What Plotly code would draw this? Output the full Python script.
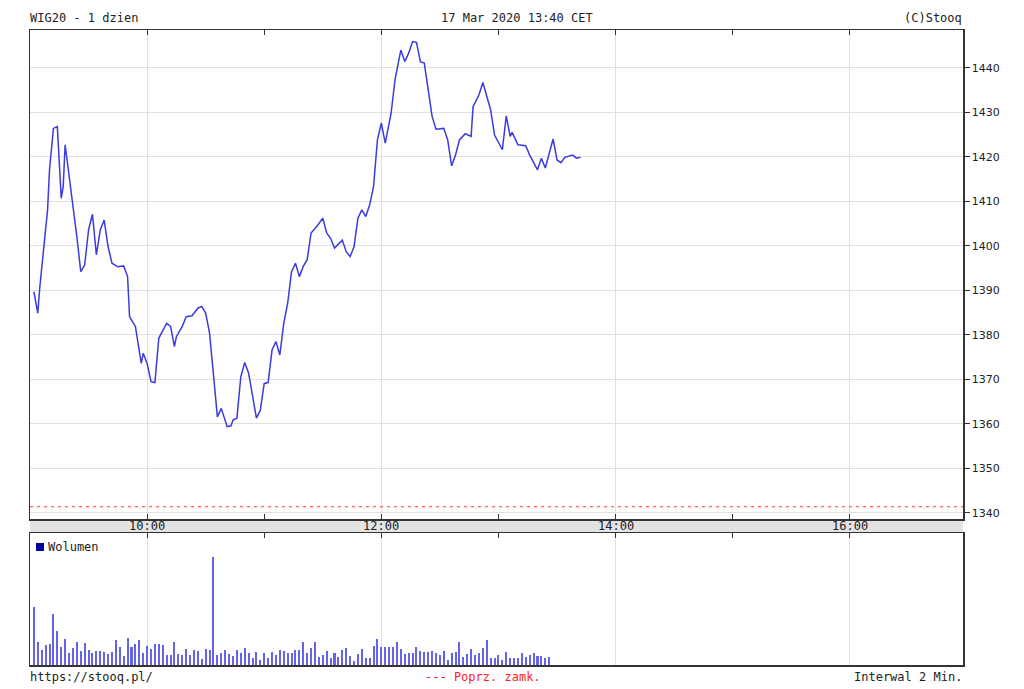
import plotly.graph_objects as go

# ---------------- data ----------------
DAY = "2020-03-17"
SESSION_START = "09:00"
SESSION_END = "16:58"

price_times = [
    "09:02", "09:04", "09:05", "09:07", "09:09", "09:10", "09:12", "09:14", "09:16", "09:17",
    "09:18", "09:19", "09:22", "09:24", "09:26", "09:28", "09:30", "09:32", "09:34", "09:36",
    "09:38", "09:40", "09:42", "09:45", "09:48", "09:50", "09:51", "09:54", "09:57", "09:58",
    "10:00", "10:02", "10:04", "10:06", "10:10", "10:12", "10:14", "10:15", "10:18", "10:20",
    "10:23", "10:26", "10:28", "10:30", "10:32", "10:34", "10:36", "10:38", "10:41", "10:43",
    "10:44", "10:46", "10:48", "10:50", "10:52", "10:56", "10:58", "11:00", "11:02", "11:04",
    "11:06", "11:08", "11:10", "11:12", "11:14", "11:16", "11:18", "11:20", "11:22", "11:24",
    "11:27", "11:30", "11:32", "11:34", "11:36", "11:40", "11:42", "11:44", "11:46", "11:48",
    "11:50", "11:52", "11:54", "11:56", "11:58", "12:00", "12:02", "12:05", "12:07", "12:09",
    "12:10", "12:12", "12:14", "12:16", "12:18", "12:20", "12:22", "12:24", "12:26", "12:28",
    "12:32", "12:34", "12:36", "12:38", "12:40", "12:43", "12:46", "12:47", "12:50", "12:52",
    "12:54", "12:56", "12:58", "13:02", "13:04", "13:06", "13:07", "13:10", "13:14", "13:16",
    "13:20", "13:22", "13:24", "13:28", "13:30", "13:32", "13:34", "13:38", "13:40", "13:42",
]
price_values = [
    1389.7, 1384.9, 1390.6, 1399.8, 1408.1, 1417.1, 1426.4, 1426.8, 1410.7, 1413.3,
    1422.7, 1419.3, 1409.6, 1402.1, 1394.2, 1395.7, 1403.6, 1407.1, 1398.0, 1403.6,
    1405.8, 1399.8, 1396.1, 1395.3, 1395.5, 1393.1, 1384.1, 1381.9, 1373.6, 1375.9,
    1373.6, 1369.5, 1369.3, 1379.3, 1382.6, 1381.9, 1377.4, 1379.6, 1381.9, 1384.1,
    1384.3, 1386.0, 1386.4, 1384.9, 1380.4, 1370.6, 1361.6, 1363.5, 1359.4, 1359.6,
    1360.9, 1361.3, 1370.6, 1373.8, 1371.4, 1361.3, 1363.1, 1369.1, 1369.3, 1376.6,
    1378.5, 1375.5, 1382.6, 1387.1, 1394.2, 1396.1, 1393.1, 1395.4, 1396.9, 1402.9,
    1404.4, 1406.2, 1402.9, 1401.7, 1399.5, 1401.3, 1398.7, 1397.6, 1399.8, 1406.2,
    1408.1, 1406.6, 1409.2, 1413.3, 1423.8, 1427.6, 1423.1, 1429.8, 1437.3, 1441.8,
    1444.0, 1441.4, 1443.3, 1445.9, 1445.7, 1441.4, 1441.1, 1435.1, 1429.1, 1426.2,
    1426.4, 1423.8, 1418.0, 1420.4, 1423.8, 1425.2, 1424.6, 1431.3, 1433.9, 1436.7,
    1433.6, 1430.6, 1424.9, 1421.6, 1429.2, 1424.6, 1425.5, 1422.7, 1422.5, 1420.4,
    1417.1, 1419.7, 1417.5, 1424.0, 1419.3, 1418.7, 1419.9, 1420.4, 1419.7, 1419.9,
]

prev_close = 1341.4

# volume bars, one per 2-minute interval starting 09:02 (relative units)
volume_start = "09:02"
volume_interval_min = 2
volume = [
    58.3, 23.3, 15.0, 20.0, 21.0, 50.7, 34.3, 18.3, 26.0, 11.7,
    17.3, 23.3, 14.0, 22.3, 15.0, 12.3, 14.0, 14.0, 13.3, 11.0,
    12.7, 24.7, 17.7, 9.0, 27.3, 18.3, 21.0, 24.7, 11.7, 19.0,
    15.7, 21.0, 20.7, 20.0, 10.0, 10.0, 23.3, 10.7, 10.0, 16.0,
    10.0, 15.0, 14.0, 6.0, 16.0, 15.0, 108.3, 10.0, 12.3, 15.0,
    10.7, 9.0, 15.0, 11.7, 17.3, 11.7, 6.7, 13.3, 5.0, 11.7,
    7.3, 13.3, 10.0, 15.0, 14.0, 11.7, 11.7, 14.7, 14.7,
    22.7, 11.7, 16.7, 22.7, 8.3, 10.0, 14.0, 6.7, 11.7, 8.3,
    15.0, 16.7, 9.0, 4.0, 10.7, 16.0, 7.3, 6.7, 19.0, 26.0,
    17.7, 17.7, 17.7, 17.7, 23.3, 16.0, 10.7, 12.3, 11.7, 18.0,
    14.0, 12.7, 13.3, 14.0, 11.7, 10.0, 14.0, 5.0, 11.7, 12.7,
    23.3, 8.3, 10.7, 16.0, 10.0, 11.7, 17.3, 24.7, 6.7, 7.3,
    10.0, 5.0, 12.7, 6.7, 6.7, 6.7, 11.7, 8.3, 10.0, 12.3,
    9.0, 9.0, 7.3, 8.3,
]
volume_max = 132

y_range = [1338.65, 1448.5]
y_ticks = [1340, 1350, 1360, 1370, 1380, 1390, 1400, 1410, 1420, 1430, 1440]
x_label_times = ["10:00", "12:00", "14:00", "16:00"]
x_hour_times = ["10:00", "11:00", "12:00", "13:00", "14:00", "15:00", "16:00"]

title_left = "WIG20 - 1 dzien"
title_mid = "17 Mar 2020 13:40 CET"
title_right = "(C)Stooq"
footer_left = "https://stooq.pl/"
footer_mid = "--- Poprz. zamk."
footer_right = "Interwal 2 Min."
legend_label = "Wolumen"

# ---------------- helpers ----------------
def ts(hm):
    return f"{DAY} {hm}"


def add_minutes(hm, minutes):
    h, m = map(int, hm.split(":"))
    t = h * 60 + m + minutes
    return f"{t // 60:02d}:{t % 60:02d}"


volume_times = [add_minutes(volume_start, i * volume_interval_min) for i in range(len(volume))]

W, H = 1024, 689


def px(x):
    return x / W


def py(y):
    return 1 - y / H


L, R = 30, 963
MAIN_TOP, MAIN_BOT = 30, 519
VOL_TOP, VOL_BOT = 533, 665

MONO = "DejaVu Sans Mono"
AX = "#333333"
GRID = "#e0e0e0"
TXT = "#222222"

fig = go.Figure()

fig.add_trace(go.Scatter(
    x=[ts(t) for t in price_times], y=price_values,
    mode="lines", line=dict(color="#3b3be0", width=1.5),
    xaxis="x", yaxis="y", showlegend=False, hoverinfo="skip",
))

fig.add_trace(go.Bar(
    x=[ts(t) for t in volume_times], y=volume,
    width=62000, marker=dict(color="#6464ea", line=dict(width=0)),
    xaxis="x2", yaxis="y2", showlegend=False, hoverinfo="skip",
))

common_x = dict(
    type="date",
    range=[ts(SESSION_START), ts(SESSION_END)],
    domain=[px(L), px(R)],
    tickmode="array",
    tickvals=[ts(t) for t in x_label_times],
    ticktext=x_label_times,
    ticks="inside", ticklen=5, tickwidth=1, tickcolor=AX,
    minor=dict(tickmode="array", tickvals=[ts(t) for t in x_hour_times],
               ticks="inside", ticklen=5, tickwidth=1, tickcolor=AX, showgrid=False),
    showline=True, linecolor=AX, linewidth=1.5,
    showgrid=True, gridcolor=GRID, gridwidth=1,
    zeroline=False, fixedrange=True, showticklabels=False,
)

fig.update_layout(
    width=W, height=H, autosize=False,
    margin=dict(l=0, r=0, t=0, b=0),
    paper_bgcolor="white", plot_bgcolor="white",
    bargap=0,
    xaxis=dict(**common_x, anchor="y", mirror="ticks", side="bottom"),
    yaxis=dict(
        domain=[py(MAIN_BOT), py(MAIN_TOP)], anchor="x", side="right",
        range=y_range, tickmode="array", tickvals=y_ticks,
        ticks="outside", ticklen=5, tickcolor=AX,
        showline=True, mirror=True, linecolor=AX, linewidth=1.5,
        showgrid=True, gridcolor=GRID, gridwidth=1, zeroline=False,
        tickfont=dict(family="DejaVu Sans", size=11, color=TXT),
        fixedrange=True,
    ),
    xaxis2=dict(**common_x, anchor="y2", mirror=True, side="top"),
    yaxis2=dict(
        domain=[py(VOL_BOT), py(VOL_TOP)], anchor="x2", side="right",
        range=[0, volume_max], showticklabels=False, ticks="",
        showline=True, mirror=True, linecolor=AX, linewidth=1.5,
        showgrid=False, zeroline=False, fixedrange=True,
    ),
)

# grey time band between the two panels
fig.add_shape(type="rect", xref="paper", yref="paper",
              x0=px(L), x1=px(R), y0=py(MAIN_BOT), y1=py(VOL_TOP),
              fillcolor="#e3e3e3", line=dict(width=0), layer="below")

# time labels inside the band
for t in x_label_times:
    fig.add_annotation(text=t, x=ts(t), xref="x", y=py((MAIN_BOT + VOL_TOP) / 2),
                       yref="paper", xanchor="center", yanchor="middle", showarrow=False,
                       font=dict(family=MONO, size=12, color=TXT))

# previous close line
fig.add_shape(type="line", xref="x domain", yref="y",
              x0=0, x1=1, y0=prev_close, y1=prev_close,
              line=dict(color="#ff3333", width=1, dash="3px,4px"))

# volume legend
fig.add_shape(type="rect", xref="paper", yref="paper",
              x0=px(36), x1=px(44), y0=py(551), y1=py(543),
              fillcolor="#000099", line=dict(width=0))

annos = [
    (title_left, 28, 18, "left", TXT),
    (title_mid, 517, 18, "center", TXT),
    (title_right, 964, 18, "right", TXT),
    (footer_left, 28, 677, "left", TXT),
    (footer_mid, 483, 677, "center", "#ff2222"),
    (footer_right, 964, 677, "right", TXT),
    (legend_label, 46, 547, "left", TXT),
]
for text, x, y, anchor, color in annos:
    fig.add_annotation(text=text, x=px(x), y=py(y), xref="paper", yref="paper",
                       xanchor=anchor, yanchor="middle", showarrow=False,
                       font=dict(family=MONO, size=12, color=color))

fig.write_html(
    "out.html",
    config={"displayModeBar": False, "staticPlot": True},
    post_script="document.body.style.margin='0';document.body.style.overflow='hidden';",
)
